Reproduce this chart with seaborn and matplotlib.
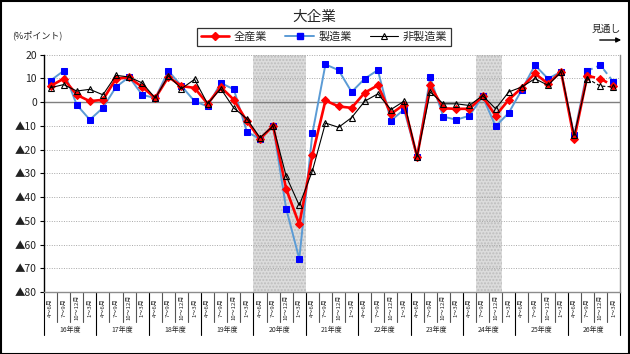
import matplotlib
matplotlib.use('Agg')
import matplotlib.pyplot as plt
import seaborn as sns
import pandas as pd
import numpy as np
from matplotlib.lines import Line2D
from matplotlib.patches import Rectangle
from matplotlib.transforms import blended_transform_factory

# ---------------- data ----------------
years = ['16年度', '17年度', '18年度', '19年度', '20年度', '21年度',
         '22年度', '23年度', '24年度', '25年度', '26年度']
quarters = ['4～6月', '7～9月', '10～12月', '1～3月']

all_industries = [6.8, 9.9, 3.1, 0.4, 1.0, 9.9, 10.4, 6.4, 1.7, 10.6, 6.8, 6.0,
                  -0.7, 6.4, 1.0, -8.0, -15.5, -10.0, -36.6, -51.5, -22.4, 0.7,
                  -1.8, -2.4, 4.0, 7.1, -5.0, -1.0, -23.0, 7.1, -2.6, -2.8, -2.8,
                  2.4, -5.7, 1.0, 6.1, 12.1, 7.8, 12.8, -15.6, 11.1, 9.9, 6.8]
manufacturing = [9.1, 13.2, -1.1, -7.4, -2.4, 6.4, 10.6, 3.1, 1.7, 13.2, 6.8, 0.4,
                 -1.8, 8.1, 5.4, -12.5, -15.5, -9.9, -44.9, -66.0, -13.2, 15.9,
                 13.5, 4.3, 9.9, 13.5, -7.8, -3.1, -23.0, 10.4, -6.1, -7.4, -5.7,
                 2.4, -10.2, -4.5, 5.2, 15.6, 9.9, 12.8, -14.0, 13.2, 15.6, 8.5]
non_manufacturing = [6.1, 7.4, 4.7, 5.4, 3.1, 11.3, 10.6, 8.1, 1.7, 11.1, 5.7, 9.6,
                     -0.7, 5.7, -2.5, -7.0, -15.0, -10.0, -31.2, -43.5, -29.0, -8.8,
                     -10.6, -6.5, 0.4, 3.5, -3.1, 0.4, -23.0, 4.3, -0.7, -0.7, -1.4,
                     2.8, -2.8, 4.3, 6.4, 9.9, 7.1, 12.8, -14.0, 9.9, 6.8, 6.4]
series_names = ['全産業', '製造業', '非製造業']
shaded_quarters = [(16, 19), (33, 34)]   # first/last quarter index of shaded periods
forecast_from = 41                       # forecast line segments start here
y_ticks = list(range(-80, 21, 10))

# ---------------- style ----------------
sns.set_theme(style='white')
plt.rcParams['font.family'] = ['Noto Sans CJK JP', 'DejaVu Sans']

W, H = 630, 354
fig = plt.figure(figsize=(W / 100, H / 100), dpi=100)
ax_l, ax_r, ax_t, ax_b = 44, 620, 54.7, 292
ax = fig.add_axes([ax_l / W, 1 - ax_b / H, (ax_r - ax_l) / W, (ax_b - ax_t) / H])

n = len(all_industries)
df = pd.DataFrame({'x': np.arange(n),
                   '全産業': all_industries,
                   '製造業': manufacturing,
                   '非製造業': non_manufacturing})

# shaded periods
for a, b in shaded_quarters:
    ax.axvspan(a - 0.5, b + 0.5, facecolor='#dcdcdc', edgecolor='#bdbdbd',
               hatch='.....', lw=0, zorder=0)

# grid lines
for v in y_ticks:
    if v == 0:
        ax.axhline(v, color='#7f7f7f', lw=1.0, zorder=1)
    elif v != -80:
        ax.axhline(v, color='#a8a8a8', lw=0.7, ls=(0, (1, 1.5)), zorder=1)

styles = {
    '製造業': dict(color='#5b9bd5', lw=1.4, marker='s', markersize=4.2,
                markerfacecolor='#0000ff', markeredgecolor='#0000ff'),
    '全産業': dict(color='#ff0000', lw=1.9, marker='D', markersize=3.6,
                markerfacecolor='#ff0000', markeredgecolor='#ff0000'),
    '非製造業': dict(color='black', lw=0.8, marker='^', markersize=5,
                 markerfacecolor='none', markeredgecolor='black', markeredgewidth=0.8),
}
for z, name in enumerate(['製造業', '全産業', '非製造業']):
    st = styles[name]
    act = df[df['x'] <= forecast_from]
    fut = df[df['x'] >= forecast_from]
    sns.lineplot(data=act, x='x', y=name, ax=ax, legend=False, zorder=3 + z, **st)
    sns.lineplot(data=fut, x='x', y=name, ax=ax, legend=False, zorder=3 + z,
                 linestyle=(0, (3, 2)), **st)

ax.set_xlim(-0.5, n - 0.5)
ax.set_ylim(-80, 20)
ax.set_xlabel('')
ax.set_ylabel('')
ax.set_xticks([])
ax.set_yticks(y_ticks)
ax.set_yticklabels([('▲%d' % (-v)) if v < 0 else str(v) for v in y_ticks])
ax.tick_params(axis='y', left=True, length=3, width=0.8, color='black',
               labelsize=7.5, pad=2, labelcolor='#222222')
ax.spines['top'].set_visible(False)
ax.spines['left'].set_color('black')
ax.spines['left'].set_linewidth(1.0)
ax.spines['bottom'].set_color('#8c8c8c')
ax.spines['bottom'].set_linewidth(1.0)
ax.spines['right'].set_color('#8c8c8c')
ax.spines['right'].set_linewidth(1.0)

# category labels below axis
trans = blended_transform_factory(ax.transData, ax.transAxes)
for i in range(n):
    ax.text(i, -0.065, quarters[i % 4], rotation=90, ha='center', va='center',
            fontsize=4.3, transform=trans, clip_on=False)
for i in range(n + 1):
    xp = i - 0.5
    if i % 4 == 0:
        ax.add_line(Line2D([xp, xp], [0, -0.183], transform=trans, color='black',
                           lw=0.8, clip_on=False))
    else:
        ax.add_line(Line2D([xp, xp], [0, -0.126], transform=trans, color='#555555',
                           lw=0.8, clip_on=False))
for k, yname in enumerate(years):
    ax.text(4 * k + 1.5, -0.162, yname, ha='center', va='center', fontsize=5,
            transform=trans, clip_on=False)

# titles and annotations
fig.text(314 / W, 1 - 17 / H, '大企業', fontsize=10.5, ha='center', va='center')
fig.text(12 / W, 1 - 35 / H, '(%ポイント)', fontsize=6.5, ha='left', va='center')
fig.text(606 / W, 1 - 29 / H, '見通し', fontsize=7, ha='center', va='center')
fig.add_artist(matplotlib.patches.FancyArrowPatch(
    (597 / W, 1 - 40 / H), (624 / W, 1 - 40 / H), transform=fig.transFigure,
    arrowstyle='-|>', mutation_scale=7, color='black', lw=1.0))

handles = []
for name in series_names:
    st = styles[name]
    handles.append(Line2D([], [], **st))
leg = fig.legend(handles, series_names, loc='center', bbox_to_anchor=(324 / W, 1 - 37 / H),
                 ncol=3, frameon=True, fancybox=False, fontsize=8, handlelength=2.6,
                 columnspacing=1.6, handletextpad=0.4, borderpad=0.3, edgecolor='black')
leg.get_frame().set_linewidth(0.9)

fig.add_artist(Rectangle((0.5 / W, 0.5 / H), 1 - 1.5 / W, 1 - 1.5 / H, transform=fig.transFigure,
                         fill=False, edgecolor='black', lw=1.5))

fig.savefig('out.png', dpi=100)
